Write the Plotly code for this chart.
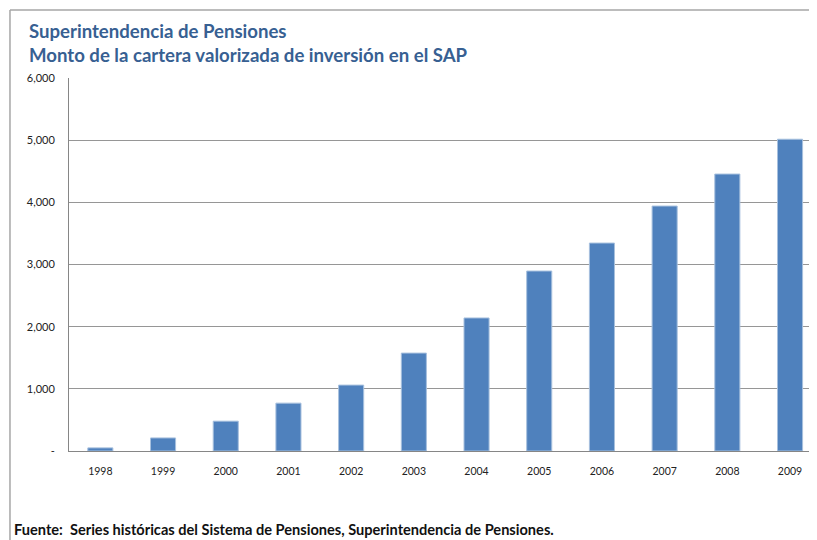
import plotly.graph_objects as go

years = ["1998", "1999", "2000", "2001", "2002", "2003",
         "2004", "2005", "2006", "2007", "2008", "2009"]
monto = [50, 210, 480, 770, 1060, 1575, 2140, 2895, 3345, 3940, 4455, 5015]

tick_vals = [0, 1000, 2000, 3000, 4000, 5000, 6000]
tick_text = ["-", "1,000", "2,000", "3,000", "4,000", "5,000", "6,000"]

FONT = "Lato"

fig = go.Figure()
fig.add_trace(go.Bar(
    x=list(range(len(years))), y=monto,
    width=0.4,
    marker=dict(color="#4F81BD", line=dict(color="#A7C0DE", width=1)),
    showlegend=False,
))

# page body has an 8px margin
fig.update_layout(
    width=809, height=532,
    margin=dict(l=61, r=0, t=70, b=89),
    paper_bgcolor="white", plot_bgcolor="white",
    font=dict(family=FONT, color="#222222"),
)

fig.update_xaxes(
    range=[-0.5, 11.43],
    tickvals=list(range(len(years))), ticktext=years,
    tickfont=dict(size=10.5, color="#222222"),
    showgrid=False, showline=True, linecolor="#868686", linewidth=1,
    ticks="", ticklabelstandoff=10,
)
fig.update_yaxes(
    range=[0, 6000],
    tickvals=tick_vals, ticktext=tick_text,
    tickfont=dict(size=11, color="#222222"),
    showgrid=True, gridcolor="#969696", gridwidth=1,
    showline=True, linecolor="#868686", linewidth=1,
    zeroline=False, ticks="", ticklabelstandoff=11,
)

# outer frame: left and top edges only (the rest lies outside the picture)
frame = dict(type="line", xref="paper", yref="paper",
             line=dict(color="#A6A6A6", width=1.5), layer="below")
fig.add_shape(x0=-0.0789, x1=-0.0789, y0=-0.3, y1=1.1823, **frame)
fig.add_shape(x0=-0.0789, x1=1.1, y0=1.1823, y1=1.1823, **frame)

fig.add_annotation(
    xref="paper", yref="paper", x=-0.0562, y=1.16,
    xanchor="left", yanchor="top", align="left", showarrow=False,
    text="<b>Superintendencia de Pensiones<br>Monto de la cartera valorizada de inversión en el SAP</b>",
    font=dict(family=FONT, size=18.6, color="#376092"),
)
fig.add_annotation(
    xref="paper", yref="paper", x=-0.0762, y=-0.182,
    xanchor="left", yanchor="top", align="left", showarrow=False,
    text="<b>Fuente:  Series históricas del Sistema de Pensiones, Superintendencia de Pensiones.</b>",
    font=dict(family=FONT, size=14.6, color="#111111"),
)

fig.write_html("out.html")
